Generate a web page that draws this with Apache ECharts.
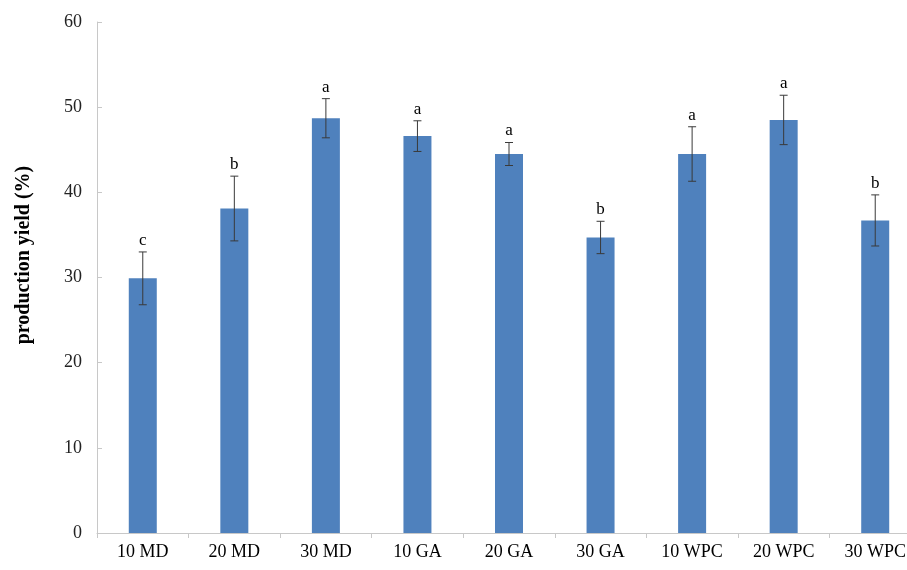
<!DOCTYPE html>
<html>
<head>
<meta charset="utf-8">
<script src="https://cdn.jsdelivr.net/npm/echarts@6/dist/echarts.min.js"></script>
<style>
  html, body { margin: 0; padding: 0; background: #fff; overflow: hidden; width: 907px; height: 570px; }
  /* the category band runs slightly past the right edge of the page */
  #chart { width: 921px; height: 570px; }
</style>
</head>
<body>
<div id="chart"></div>
<script>
// Production yield per carrier treatment
const categories = ['10 MD', '20 MD', '30 MD', '10 GA', '20 GA', '30 GA', '10 WPC', '20 WPC', '30 WPC'];
const yieldMean = [29.9, 38.1, 48.7, 46.6, 44.5, 34.7, 44.5, 48.5, 36.7];
const yieldSd = [3.1, 3.8, 2.3, 1.8, 1.35, 1.9, 3.2, 2.9, 3.0];
const groupLetters = ['c', 'b', 'a', 'a', 'a', 'b', 'a', 'a', 'b'];
const yTicks = [0, 10, 20, 30, 40, 50, 60];
const yTitle = 'production yield (%)';

const serif = '"Liberation Serif", "Times New Roman", serif';

const errorData = categories.map((c, i) => [i, yieldMean[i], yieldSd[i]]);

const chart = echarts.init(document.getElementById('chart'));
chart.setOption({
  animation: false,
  backgroundColor: '#ffffff',
  grid: { left: 97, right: 0, top: 22, bottom: 37, containLabel: false },
  graphic: [{
    type: 'text',
    x: 24, y: 255,
    rotation: Math.PI / 2,
    style: {
      text: yTitle,
      align: 'center', verticalAlign: 'middle',
      fontFamily: serif, fontSize: 20, fontWeight: 'bold', fill: '#000'
    }
  }],
  xAxis: {
    type: 'category',
    data: categories,
    axisLine: { lineStyle: { color: '#c8c8c8', width: 1 } },
    axisTick: { show: true, inside: false, length: 5, lineStyle: { color: '#c8c8c8' } },
    axisLabel: { fontFamily: serif, fontSize: 18, color: '#000', margin: 10 }
  },
  yAxis: {
    type: 'value',
    min: yTicks[0],
    max: yTicks[yTicks.length - 1],
    interval: 10,
    axisLine: { show: true, lineStyle: { color: '#c8c8c8', width: 1 } },
    axisTick: { show: true, inside: true, length: 5, lineStyle: { color: '#c8c8c8' } },
    axisLabel: { fontFamily: serif, fontSize: 18, color: '#222', margin: 15 },
    splitLine: { show: false }
  },
  series: [
    {
      type: 'bar',
      data: yieldMean,
      barWidth: 28,
      itemStyle: { color: '#4f81bd' }
    },
    {
      type: 'custom',
      data: errorData,
      z: 10,
      renderItem: function (params, api) {
        const x = api.value(0);
        const m = api.value(1);
        const sd = api.value(2);
        const letter = groupLetters[params.dataIndex];
        const top = api.coord([x, m + sd]);
        const bot = api.coord([x, m - sd]);
        const cap = 4;
        const st = { stroke: '#3a3a3a', lineWidth: 1 };
        return {
          type: 'group',
          children: [
            { type: 'line', shape: { x1: top[0], y1: top[1], x2: bot[0], y2: bot[1] }, style: st },
            { type: 'line', shape: { x1: top[0] - cap, y1: top[1], x2: top[0] + cap, y2: top[1] }, style: st },
            { type: 'line', shape: { x1: bot[0] - cap, y1: bot[1], x2: bot[0] + cap, y2: bot[1] }, style: st },
            {
              type: 'text',
              style: {
                x: top[0], y: top[1] - 3,
                text: letter,
                align: 'center', verticalAlign: 'bottom',
                fontFamily: serif, fontSize: 17, fill: '#000'
              }
            }
          ]
        };
      }
    }
  ]
});
</script>
</body>
</html>
